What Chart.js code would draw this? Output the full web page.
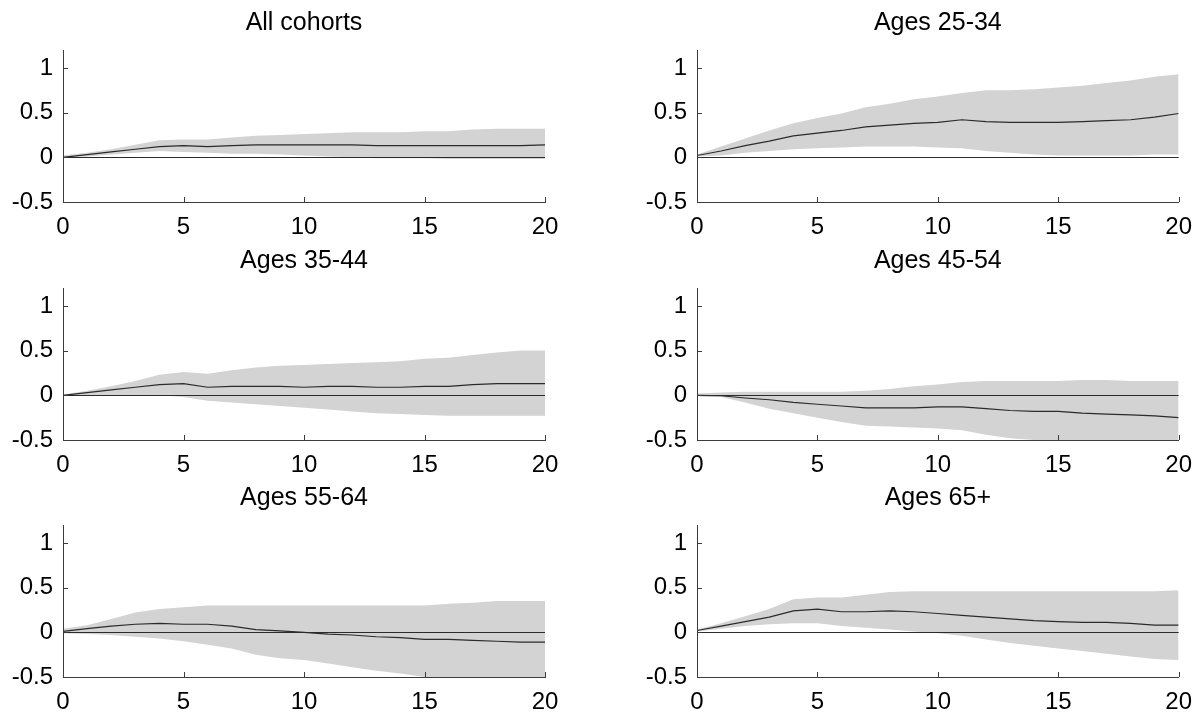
<!DOCTYPE html>
<html><head><meta charset="utf-8">
<script src="https://cdn.jsdelivr.net/npm/chart.js@4"></script>
<style>
html,body{margin:0;padding:0;background:#fff;}
body{width:1203px;height:713px;position:relative;overflow:hidden;}
.p{position:absolute;}
</style></head><body>
<div id="wrap"></div>
<script>
// ---- data ----
const periods = [0,1,2,3,4,5,6,7,8,9,10,11,12,13,14,15,16,17,18,19,20];
const xTicks = [0,5,10,15,20];
const yTicks = [-0.5,0,0.5,1];
const titles = ["All cohorts","Ages 25-34","Ages 35-44","Ages 45-54","Ages 55-64","Ages 65+"];

const allMid = [0.00,0.03,0.06,0.09,0.12,0.13,0.12,0.13,0.14,0.14,0.14,0.14,0.14,0.13,0.13,0.13,0.13,0.13,0.13,0.13,0.14];
const allHi  = [0.02,0.05,0.09,0.14,0.19,0.20,0.20,0.22,0.24,0.25,0.26,0.27,0.28,0.28,0.28,0.29,0.29,0.31,0.32,0.32,0.32];
const allLo  = [0.00,0.01,0.03,0.05,0.07,0.06,0.05,0.04,0.04,0.03,0.02,0.01,0.00,-0.01,-0.01,-0.01,-0.02,-0.02,-0.02,-0.02,-0.02];

const a25Mid = [0.02,0.07,0.13,0.18,0.24,0.27,0.30,0.34,0.36,0.38,0.39,0.42,0.40,0.39,0.39,0.39,0.40,0.41,0.42,0.45,0.49];
const a25Hi  = [0.03,0.12,0.21,0.30,0.38,0.44,0.49,0.56,0.60,0.65,0.68,0.72,0.75,0.75,0.76,0.78,0.80,0.83,0.86,0.90,0.93];
const a25Lo  = [0.01,0.02,0.05,0.07,0.09,0.10,0.11,0.12,0.12,0.12,0.11,0.10,0.07,0.05,0.03,0.02,0.02,0.02,0.02,0.03,0.03];

const a35Mid = [0.00,0.03,0.06,0.09,0.12,0.13,0.09,0.10,0.10,0.10,0.09,0.10,0.10,0.09,0.09,0.10,0.10,0.12,0.13,0.13,0.13];
const a35Hi  = [0.01,0.05,0.10,0.16,0.23,0.26,0.24,0.28,0.31,0.33,0.34,0.35,0.36,0.37,0.38,0.41,0.42,0.45,0.48,0.50,0.50];
const a35Lo  = [0.00,0.00,0.00,0.00,0.00,-0.02,-0.06,-0.08,-0.10,-0.12,-0.14,-0.16,-0.18,-0.20,-0.21,-0.22,-0.23,-0.23,-0.23,-0.23,-0.23];

const a45Mid = [0.00,-0.005,-0.03,-0.05,-0.08,-0.10,-0.12,-0.14,-0.14,-0.14,-0.13,-0.13,-0.15,-0.17,-0.18,-0.18,-0.20,-0.21,-0.22,-0.23,-0.25];
const a45Hi  = [0.02,0.03,0.04,0.04,0.04,0.04,0.04,0.05,0.07,0.10,0.12,0.15,0.16,0.16,0.16,0.16,0.17,0.17,0.16,0.16,0.16];
const a45Lo  = [-0.01,-0.02,-0.08,-0.15,-0.20,-0.25,-0.30,-0.34,-0.35,-0.36,-0.37,-0.39,-0.44,-0.48,-0.50,-0.53,-0.55,-0.57,-0.59,-0.61,-0.63];

const a55Mid = [0.01,0.04,0.07,0.09,0.10,0.09,0.09,0.07,0.03,0.015,0.00,-0.02,-0.03,-0.05,-0.06,-0.08,-0.08,-0.09,-0.10,-0.11,-0.11];
const a55Hi  = [0.04,0.08,0.15,0.22,0.26,0.28,0.30,0.30,0.30,0.30,0.30,0.30,0.30,0.30,0.30,0.30,0.32,0.33,0.35,0.35,0.35];
const a55Lo  = [-0.01,-0.02,-0.03,-0.05,-0.07,-0.10,-0.14,-0.18,-0.25,-0.29,-0.31,-0.35,-0.39,-0.43,-0.46,-0.50,-0.53,-0.55,-0.57,-0.59,-0.61];

const a65Mid = [0.02,0.07,0.12,0.17,0.24,0.26,0.23,0.23,0.24,0.23,0.21,0.19,0.17,0.15,0.13,0.12,0.11,0.11,0.10,0.08,0.08];
const a65Hi  = [0.03,0.10,0.18,0.26,0.37,0.39,0.39,0.42,0.45,0.46,0.46,0.46,0.46,0.46,0.46,0.46,0.46,0.46,0.46,0.46,0.47];
const a65Lo  = [0.01,0.04,0.07,0.09,0.10,0.10,0.07,0.05,0.03,0.01,-0.01,-0.04,-0.08,-0.12,-0.15,-0.18,-0.21,-0.24,-0.27,-0.30,-0.31];

const panels = [
  {mid: allMid, hi: allHi, lo: allLo},
  {mid: a25Mid, hi: a25Hi, lo: a25Lo},
  {mid: a35Mid, hi: a35Hi, lo: a35Lo},
  {mid: a45Mid, hi: a45Hi, lo: a45Lo},
  {mid: a55Mid, hi: a55Hi, lo: a55Lo},
  {mid: a65Mid, hi: a65Hi, lo: a65Lo}
];

// ---- styles / layout ----
const BAND = 'rgb(211,211,211)';
const LINE = '#2b2b2b';
const AXIS = '#3c3c3c';
const FONT = '"Liberation Sans", Arial, Helvetica, sans-serif';
const rowTops = [0, 238, 475];
const cols = [
  {left: 0,   width: 600, yW: 63, padR: 55},
  {left: 600, width: 603, yW: 97, padR: 24}
];
const H = 240, XH = 38;

Chart.defaults.font.family = FONT;
Chart.defaults.color = '#000';

const inwardTicks = {
  id: 'inwardTicks',
  afterDraw(chart) {
    const {ctx, chartArea: a, scales: {x, y}} = chart;
    ctx.save();
    ctx.strokeStyle = AXIS; ctx.lineWidth = 1;
    ctx.beginPath();
    x.ticks.forEach(t => {
      const px = Math.round(x.getPixelForValue(t.value)) + 0.5;
      ctx.moveTo(px, a.bottom); ctx.lineTo(px, a.bottom - 5);
    });
    y.ticks.forEach(t => {
      const py = Math.round(y.getPixelForValue(t.value)) + 0.5;
      ctx.moveTo(a.left, py); ctx.lineTo(a.left + 5, py);
    });
    ctx.stroke();
    ctx.restore();
  }
};

const wrap = document.getElementById('wrap');
panels.forEach((p, i) => {
  const col = cols[i % 2];
  const top = rowTops[Math.floor(i / 2)];
  const div = document.createElement('div');
  div.className = 'p';
  div.style.left = col.left + 'px';
  div.style.top = top + 'px';
  div.style.width = col.width + 'px';
  div.style.height = H + 'px';
  const cv = document.createElement('canvas');
  cv.width = col.width; cv.height = H;
  cv.style.width = col.width + 'px'; cv.style.height = H + 'px';
  div.appendChild(cv);
  wrap.appendChild(div);

  const pts = arr => periods.map((x, k) => ({x: x, y: arr[k]}));

  new Chart(cv, {
    type: 'line',
    data: {
      datasets: [
        {data: pts(p.mid), borderColor: LINE, borderWidth: 1.2, pointRadius: 0, fill: false, tension: 0},
        {data: pts(p.hi), borderWidth: 0, pointRadius: 0, backgroundColor: BAND, fill: '+1', tension: 0},
        {data: pts(p.lo), borderWidth: 0, pointRadius: 0, fill: false, tension: 0}
      ]
    },
    options: {
      responsive: false,
      animation: false,
      events: [],
      layout: {padding: {left: 0, right: col.padR, top: 0, bottom: 0}},
      plugins: {
        legend: {display: false},
        tooltip: {enabled: false},
        title: {
          display: true, text: titles[i], color: '#000', fullSize: false,
          font: {size: 25, weight: 'normal', family: FONT, lineHeight: 1.2},
          padding: {top: 8, bottom: 12}
        }
      },
      scales: {
        x: {
          type: 'linear', min: 0, max: 20,
          afterBuildTicks: s => { s.ticks = xTicks.map(v => ({value: v})); },
          afterFit: s => { s.height = XH; },
          grid: {display: true, drawOnChartArea: false, drawTicks: false},
          border: {display: true, color: AXIS, width: 1},
          ticks: {font: {size: 24, family: FONT}, color: '#000', padding: 11, maxRotation: 0,
                  callback: v => String(v)}
        },
        y: {
          type: 'linear', min: -0.5, max: 1.2,
          afterBuildTicks: s => { s.ticks = yTicks.map(v => ({value: v})); },
          afterFit: s => { s.width = col.yW; },
          grid: {display: true, drawOnChartArea: true, drawTicks: false, z: 1,
                 color: c => (c.tick && c.tick.value === 0) ? LINE : 'rgba(0,0,0,0)', lineWidth: 1},
          border: {display: true, color: AXIS, width: 1, z: 2},
          ticks: {font: {size: 24, family: FONT}, color: '#000', padding: 10,
                  callback: v => String(v)}
        }
      }
    },
    plugins: [inwardTicks]
  });
});
</script>
</body></html>
